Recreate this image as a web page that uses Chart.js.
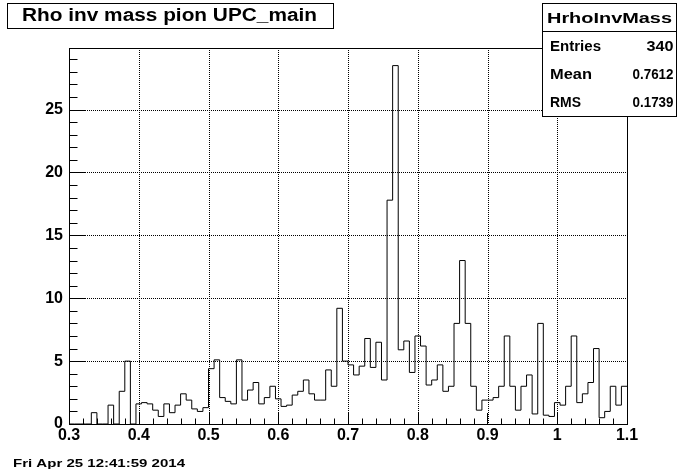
<!DOCTYPE html>
<html>
<head>
<meta charset="utf-8">
<title>Rho inv mass pion UPC_main</title>
<script src="https://cdn.jsdelivr.net/npm/chart.js@4/dist/chart.umd.min.js"></script>
<style>
  html, body { margin: 0; padding: 0; background: #fff; }
  #wrap { width: 696px; height: 472px; position: relative; }
</style>
</head>
<body>
<div id="wrap"><canvas id="chart" width="696" height="472"></canvas></div>
<script>
// histogram binning (100 bins from 0.3 to 1.1)
const binLow = 0.3;
const binWidth = 0.008;
const xTicks = [0.3, 0.4, 0.5, 0.6, 0.7, 0.8, 0.9, 1.0, 1.1];
const yTicks = [0, 5, 10, 15, 20, 25];
const yMax = 29.9;

// bin contents
const binCounts = [
  0, 0, 0, 0, 0.9, 0, 0, 1.5, 0, 2.6,
  5.0, 0, 1.6, 1.7, 1.6, 1.1, 0.6, 1.6, 0.9, 1.5,
  2.4, 1.9, 1.2, 1.0, 1.3, 4.4, 5.1, 2.1, 1.8, 1.6,
  5.1, 1.9, 2.7, 3.3, 1.6, 2.1, 3.0, 2.0, 1.4, 1.5,
  2.3, 2.6, 3.5, 2.4, 1.9, 1.9, 4.3, 3.0, 9.2, 5.0,
  4.7, 3.9, 4.6, 6.8, 4.5, 6.5, 3.5, 17.8, 28.5, 5.9,
  6.6, 4.1, 7.0, 6.2, 3.1, 3.5, 4.7, 2.6, 3.0, 8.0,
  13.0, 8.0, 3.0, 1.1, 1.9, 1.9, 2.1, 3.0, 7.0, 3.0,
  1.1, 3.0, 3.9, 0.8, 8.0, 0.7, 0.6, 1.7, 1.5, 3.0,
  7.0, 1.7, 2.4, 3.3, 6.0, 0.5, 1.0, 3.0, 1.5, 3.0,
];

const histTitle = 'Rho inv mass pion UPC_main';
const statsName = 'HrhoInvMass';
const statsLabels = ['Entries', 'Mean', 'RMS'];
const statsValues = ['340', '0.7612', '0.1739'];
const dateStamp = 'Fri Apr 25 12:41:59 2014';

// step outline points: each bin's left edge, plus the closing right edge
const outline = binCounts.map((count, i) => ({ x: binLow + binWidth * i, y: count }));
outline.push({ x: binLow + binWidth * binCounts.length, y: binCounts[binCounts.length - 1] });

const labelFont = { family: 'Liberation Sans', size: 16, weight: 'bold' };

// the ROOT fonts come out wider than Helvetica, so stretch to the seen widths
const statsLabelWidths = [51, 42, 31];
const statsValueWidths = [27, 41, 41];

function drawText(ctx, text, x, y, font, align, width) {
  ctx.save();
  ctx.font = font;
  ctx.textBaseline = 'alphabetic';
  ctx.textAlign = align;
  const natural = ctx.measureText(text).width;
  ctx.translate(x, y);
  if (width) ctx.scale(width / natural, 1);
  ctx.fillStyle = '#000';
  ctx.fillText(text, 0, 0);
  ctx.restore();
}

function crisp(v) {
  return Math.round(v) + 0.5;
}

const rootStyle = {
  id: 'rootStyle',
  beforeDatasetsDraw(chart) {
    const { ctx, chartArea: area, scales } = chart;
    ctx.save();
    ctx.strokeStyle = '#000';
    ctx.lineWidth = 1;
    ctx.setLineDash([1, 1]);
    ctx.beginPath();
    xTicks.slice(1, -1).forEach((v) => {
      const px = crisp(scales.x.getPixelForValue(v));
      ctx.moveTo(px, area.top);
      ctx.lineTo(px, area.bottom);
    });
    yTicks.slice(1).forEach((v) => {
      const py = crisp(scales.y.getPixelForValue(v));
      ctx.moveTo(area.left, py);
      ctx.lineTo(area.right, py);
    });
    ctx.stroke();
    ctx.restore();
  },
  afterDatasetsDraw(chart) {
    const { ctx, chartArea: area, scales } = chart;
    ctx.save();
    ctx.strokeStyle = '#000';
    ctx.lineWidth = 1;
    ctx.beginPath();
    // x ticks, major every 0.1 and minor every 0.02
    for (let i = 0; i <= 40; i++) {
      const v = binLow + i * 0.02;
      const px = crisp(scales.x.getPixelForValue(v));
      const len = i % 5 === 0 ? 11 : 5.5;
      ctx.moveTo(px, area.bottom);
      ctx.lineTo(px, area.bottom - len);
    }
    // y ticks, major every 5 and minor every 1
    for (let v = 0; v <= Math.floor(yMax); v++) {
      const py = crisp(scales.y.getPixelForValue(v));
      const len = v % 5 === 0 ? 17 : 8.5;
      ctx.moveTo(area.left, py);
      ctx.lineTo(area.left + len, py);
    }
    ctx.stroke();
    ctx.strokeRect(crisp(area.left), crisp(area.top), Math.round(area.right - area.left), Math.round(area.bottom - area.top));
    ctx.restore();
  },
  afterDraw(chart) {
    const { ctx } = chart;
    ctx.save();
    ctx.strokeStyle = '#000';
    ctx.fillStyle = '#fff';
    ctx.lineWidth = 1;

    // title box
    ctx.fillRect(7, 3, 326, 25);
    ctx.strokeRect(7.5, 3.5, 326, 25);
    drawText(ctx, histTitle, 22, 21, 'bold 18px "Liberation Sans"', 'left', 295);

    // stats box
    ctx.fillStyle = '#fff';
    ctx.fillRect(542, 3, 134, 113);
    ctx.strokeRect(542.5, 3.5, 134, 113);
    ctx.beginPath();
    ctx.moveTo(542.5, 31.5);
    ctx.lineTo(676.5, 31.5);
    ctx.stroke();
    drawText(ctx, statsName, 609.5, 23, 'bold 15px "Liberation Sans"', 'center', 125);
    statsLabels.forEach((label, i) => {
      const y = 51 + i * 28;
      drawText(ctx, label, 550, y, 'bold 14px "Liberation Sans"', 'left', statsLabelWidths[i]);
      drawText(ctx, statsValues[i], 673.5, y, 'bold 14px "Liberation Sans"', 'right', statsValueWidths[i]);
    });

    drawText(ctx, dateStamp, 13, 467, 'bold 10px "Liberation Sans"', 'left', 172);
    ctx.restore();
  },
};

const chart = new Chart(document.getElementById('chart').getContext('2d'), {
  type: 'line',
  data: {
    datasets: [
      {
        label: statsName,
        data: outline,
        stepped: 'before',
        borderColor: '#000',
        borderWidth: 1,
        pointRadius: 0,
        fill: false,
      },
    ],
  },
  options: {
    responsive: false,
    animation: false,
    devicePixelRatio: 1,
    layout: { padding: { top: 48, right: 69, left: 0, bottom: 0 } },
    plugins: {
      legend: { display: false },
      tooltip: { enabled: false },
    },
    scales: {
      x: {
        type: 'linear',
        min: xTicks[0],
        max: xTicks[xTicks.length - 1],
        afterFit: (scale) => { scale.height = 48; },
        afterBuildTicks: (scale) => { scale.ticks = xTicks.map((v) => ({ value: v })); },
        grid: { display: false, drawTicks: false },
        border: { display: false },
        ticks: {
          autoSkip: false,
          maxRotation: 0,
          padding: 2,
          color: '#000',
          font: labelFont,
          callback: (v) => String(Math.round(v * 10) / 10),
        },
      },
      y: {
        type: 'linear',
        min: 0,
        max: yMax,
        afterFit: (scale) => { scale.width = 69; },
        afterBuildTicks: (scale) => { scale.ticks = yTicks.map((v) => ({ value: v })); },
        grid: { display: false, drawTicks: false },
        border: { display: false },
        ticks: {
          autoSkip: false,
          padding: 6,
          color: '#000',
          font: labelFont,
          callback: (v) => String(v),
        },
      },
    },
  },
  plugins: [rootStyle],
});
</script>
</body>
</html>
